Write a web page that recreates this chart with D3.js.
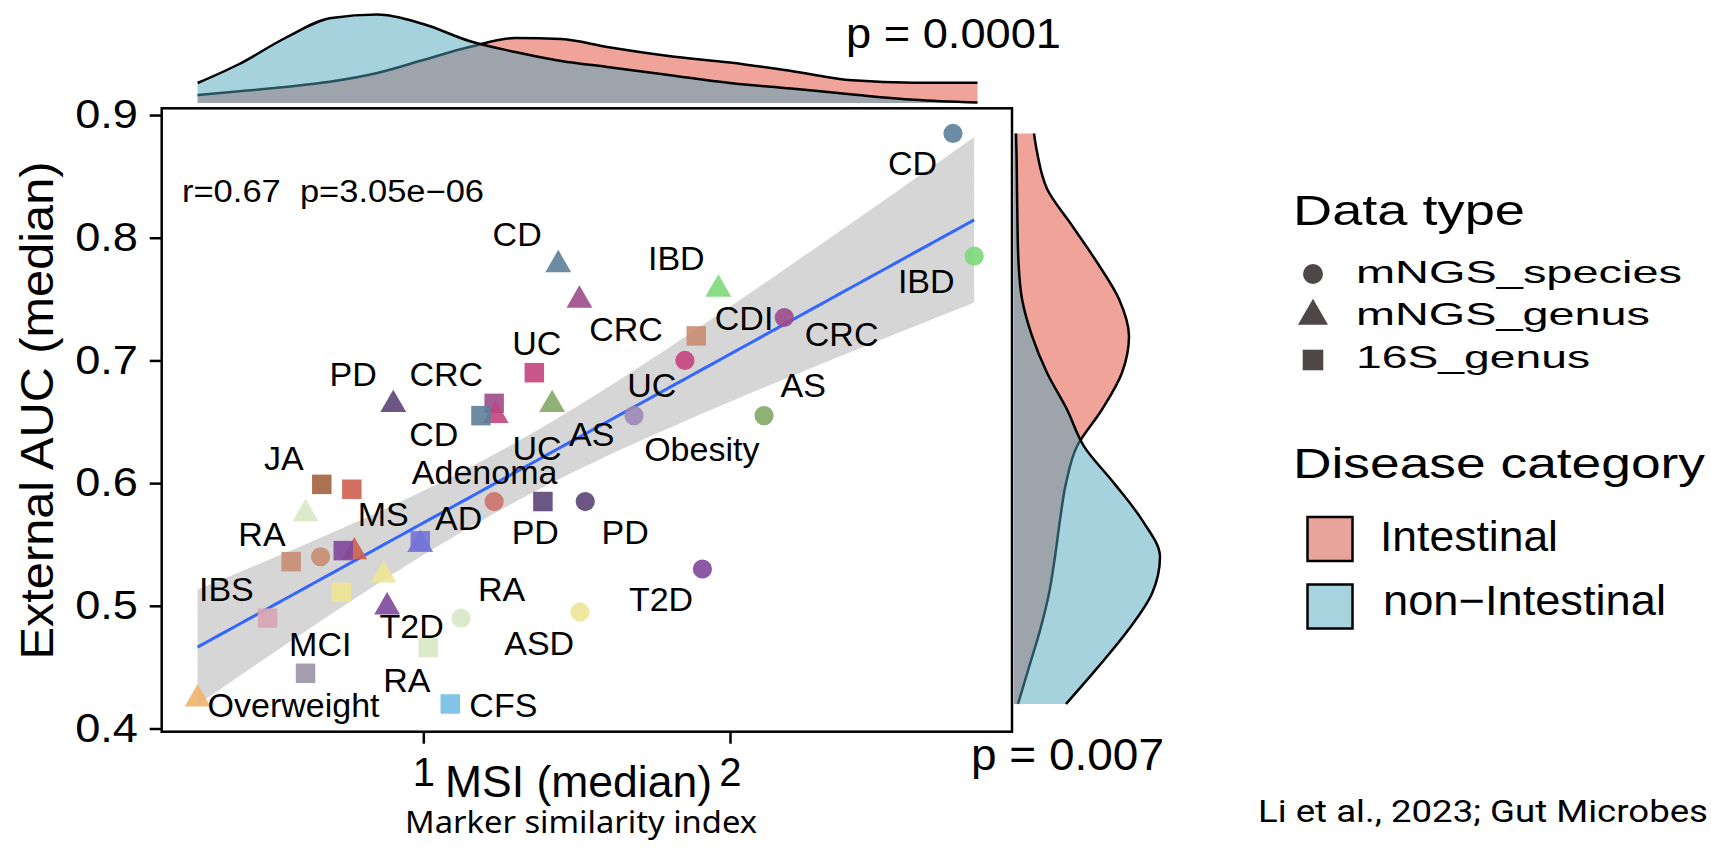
<!DOCTYPE html>
<html>
<head>
<meta charset="utf-8">
<script src="https://cdn.jsdelivr.net/npm/d3@7"></script>
<style>
  body { margin: 0; background: #fff; }
  svg { display: block; font-family: "Liberation Sans", Arial, sans-serif; }
</style>
</head>
<body>
<svg id="chart"></svg>
<script>
// Points : maladie, type de données, MSI (médiane), AUC externe (médiane)
const diseases = ["CD", "IBD", "CD", "IBD", "CRC", "CRC", "CDI", "UC", "UC", "PD",
  "AS", "CRC", "UC", "CD", "Obesity", "AS", "JA", "MS", "Adenoma", "PD",
  "PD", "RA", "AD", "AD", "MS", "T2D", "CDI", "CDI", "T2D", "ASD",
  "ASD", "T2D", "ASD", "IBS", "RA", "RA", "MCI", "Overweight", "CFS"];
const dataTypes = ["mNGS_species", "mNGS_species", "mNGS_genus", "mNGS_genus", "mNGS_genus",
  "mNGS_species", "16S_genus", "mNGS_species", "16S_genus", "mNGS_genus",
  "mNGS_genus", "16S_genus", "mNGS_genus", "16S_genus", "mNGS_species",
  "mNGS_species", "16S_genus", "16S_genus", "mNGS_species", "16S_genus",
  "mNGS_species", "mNGS_genus", "16S_genus", "mNGS_genus", "mNGS_genus",
  "16S_genus", "mNGS_species", "16S_genus", "mNGS_species", "mNGS_genus",
  "16S_genus", "mNGS_genus", "mNGS_species", "16S_genus", "mNGS_species",
  "16S_genus", "16S_genus", "mNGS_genus", "16S_genus"];
const msi = [2.727, 2.796, 1.44, 1.962, 1.509, 2.177, 1.89, 1.853, 1.362, 0.902,
  1.42, 1.231, 1.236, 1.188, 1.687, 2.111, 0.669, 0.767, 1.231, 1.39,
  1.528, 0.616, 0.99, 0.99, 0.775, 0.739, 0.665, 0.569, 1.91, 0.87,
  0.733, 0.882, 1.511, 0.492, 1.123, 1.016, 0.616, 0.264, 1.088];
const auc = [0.885, 0.785, 0.778, 0.758, 0.749, 0.735, 0.72, 0.7, 0.69, 0.664,
  0.664, 0.665, 0.655, 0.655, 0.655, 0.655, 0.599, 0.595, 0.585, 0.585,
  0.585, 0.575, 0.553, 0.55, 0.544, 0.545, 0.54, 0.536, 0.53, 0.525,
  0.511, 0.499, 0.495, 0.49, 0.49, 0.466, 0.445, 0.424, 0.42];

// Étiquettes (placées comme ggrepel)
const labelTexts = ["CD", "IBD", "CD", "IBD", "CRC", "CDI", "CRC", "UC", "AS", "UC",
  "PD", "CRC", "CD", "UC", "AS", "Obesity", "Adenoma", "JA", "MS", "AD",
  "PD", "PD", "RA", "IBS", "RA", "T2D", "T2D", "MCI", "ASD", "RA",
  "Overweight", "CFS"];
const labelMsi = [2.595, 2.64, 1.306, 1.825, 1.661, 2.046, 2.364, 1.745, 2.239, 1.37,
  0.771, 1.075, 1.034, 1.371, 1.549, 1.908, 1.2, 0.545, 0.869, 1.115,
  1.365, 1.658, 0.474, 0.358, 1.255, 0.962, 1.775, 0.664, 1.378, 0.946,
  0.577, 1.261];
const labelAuc = [0.861, 0.765, 0.803, 0.784, 0.726, 0.735, 0.722, 0.68, 0.68, 0.714,
  0.689, 0.689, 0.64, 0.629, 0.64, 0.628, 0.609, 0.621, 0.575, 0.572,
  0.56, 0.56, 0.559, 0.514, 0.514, 0.484, 0.506, 0.469, 0.47, 0.44,
  0.419, 0.419];

// Couleurs par maladie
const diseaseNames = ["CD", "IBD", "CRC", "CDI", "UC", "PD", "AS", "Obesity", "JA", "MS",
  "Adenoma", "RA", "AD", "T2D", "ASD", "IBS", "MCI", "Overweight", "CFS"];
const diseaseColors = ["#5d7f99", "#7ed87a", "#9c4b8a", "#c98d72", "#c4447f", "#5b4477",
  "#84a966", "#9d8ab8", "#a4633f", "#cf6050", "#cd706a", "#d7e8c4", "#7474d8",
  "#80479c", "#eee693", "#d8a5b5", "#9b94a8", "#eeb36c", "#74bde5"];

const typeNames = ["mNGS_species", "mNGS_genus", "16S_genus"];
const categoryNames = ["Intestinal", "non\u2212Intestinal"];

const xTicks = [1, 2];
const yTicks = [0.4, 0.5, 0.6, 0.7, 0.8, 0.9];

// Densités marginales
const densMsi = [0.264, 0.4, 0.55, 0.7, 0.85, 1.0, 1.15, 1.3, 1.45, 1.6, 1.8, 2.0, 2.2, 2.4, 2.6, 2.807];
const densMsiIntestinal = [0.08, 0.117, 0.16, 0.215, 0.3, 0.43, 0.56, 0.65, 0.64, 0.56, 0.47, 0.405, 0.32, 0.227, 0.203, 0.203];
const densMsiNonIntestinal = [0.2, 0.39, 0.65, 0.85, 0.885, 0.79, 0.62, 0.51, 0.42, 0.36, 0.28, 0.2, 0.145, 0.085, 0.032, 0.004];
const densAuc = [0.42, 0.45, 0.48, 0.51, 0.54, 0.57, 0.6, 0.63, 0.66, 0.69, 0.72, 0.75, 0.78, 0.81, 0.84, 0.87, 0.885];
const densAucIntestinal = [0.04, 0.15, 0.26, 0.35, 0.41, 0.46, 0.52, 0.63, 0.88, 1.08, 1.15, 1.05, 0.83, 0.58, 0.33, 0.23, 0.2];
const densAucNonIntestinal = [0.52, 0.84, 1.14, 1.38, 1.46, 1.28, 1.0, 0.7, 0.53, 0.33, 0.18, 0.08, 0.045, 0.035, 0.03, 0.025, 0.02];

const statText = "r=0.67  p=3.05e\u221206";
const pTop = "p = 0.0001";
const pRight = "p = 0.007";

// Dimensions
const width = 1711, height = 859;
const plot = { left: 161.7, top: 108.3, right: 1012, bottom: 731.7 };

const svg = d3.select("#chart").attr("width", width).attr("height", height);

const x = d3.scaleLinear().domain([0.147, 2.9195]).range([plot.left, plot.right]);
const y = d3.scaleLinear().domain([0.3974, 0.9055]).range([plot.bottom, plot.top]);
const color = d3.scaleOrdinal(diseaseNames, diseaseColors);
const shape = d3.scaleOrdinal(typeNames, [d3.symbolCircle, d3.symbolTriangle, d3.symbolSquare]);
const shapeSize = d3.scaleOrdinal(typeNames, [290, 290, 380]);

// Ajouter un texte (avec largeur forcée si besoin)
function addText(parent, str, px, py, size, opts = {}) {
  const t = parent.append("text")
    .attr("x", px).attr("y", py)
    .attr("font-size", size)
    .attr("fill", "#000")
    .attr("text-anchor", opts.anchor || "start")
    .style("white-space", "pre")
    .text(str);
  if (opts.family) t.attr("font-family", opts.family);
  if (opts.fit) t.attr("textLength", opts.fit).attr("lengthAdjust", "spacingAndGlyphs");
  return t;
}

// ---- densité du haut (MSI) ----
const topBase = 103;
const hTop = d3.scaleLinear().domain([0, 1]).range([0, 100]);
const areaTop = vals => d3.area()
  .x(d => x(d))
  .y0(topBase)
  .y1((d, i) => topBase - hTop(vals[i]))
  .curve(d3.curveMonotoneX)(densMsi);
const lineTop = vals => d3.line()
  .x(d => x(d))
  .y((d, i) => topBase - hTop(vals[i]))
  .curve(d3.curveMonotoneX)(densMsi);

const gTop = svg.append("g");
gTop.append("path").attr("d", areaTop(densMsiIntestinal)).attr("fill", "#efa399");
gTop.append("path").attr("d", lineTop(densMsiIntestinal)).attr("fill", "none").attr("stroke", "#000").attr("stroke-width", 2.5);
gTop.append("path").attr("d", areaTop(densMsiNonIntestinal)).attr("fill", "rgb(77,165,189)").attr("fill-opacity", 0.5);
gTop.append("path").attr("d", lineTop(densMsiNonIntestinal)).attr("fill", "none").attr("stroke", "#000").attr("stroke-width", 2.5);

// ---- densité de droite (AUC) ----
const rightBase = 1014;
const hRight = d3.scaleLinear().domain([0, 1]).range([0, 100]);
const areaRight = vals => d3.area()
  .y(d => y(d))
  .x0(rightBase)
  .x1((d, i) => rightBase + hRight(vals[i]))
  .curve(d3.curveMonotoneY)(densAuc);
const lineRight = vals => d3.line()
  .y(d => y(d))
  .x((d, i) => rightBase + hRight(vals[i]))
  .curve(d3.curveMonotoneY)(densAuc);

const gRight = svg.append("g");
gRight.append("path").attr("d", areaRight(densAucIntestinal)).attr("fill", "#efa399");
gRight.append("path").attr("d", lineRight(densAucIntestinal)).attr("fill", "none").attr("stroke", "#000").attr("stroke-width", 2.5);
gRight.append("path").attr("d", areaRight(densAucNonIntestinal)).attr("fill", "rgb(77,165,189)").attr("fill-opacity", 0.5);
gRight.append("path").attr("d", lineRight(densAucNonIntestinal)).attr("fill", "none").attr("stroke", "#000").attr("stroke-width", 2.5);

// ---- régression linéaire + IC 95% ----
const n = msi.length;
const mx = d3.mean(msi), my = d3.mean(auc);
const sxx = d3.sum(msi, v => (v - mx) ** 2);
const sxy = d3.sum(msi, (v, i) => (v - mx) * (auc[i] - my));
const slope = sxy / sxx, intercept = my - slope * mx;
const sse = d3.sum(msi, (v, i) => (auc[i] - (intercept + slope * v)) ** 2);
const sigma = Math.sqrt(sse / (n - 2));
const tCrit = 2.026; // qt(0.975, n - 2)
const [xmin, xmax] = d3.extent(msi);
const fitX = d3.range(81).map(i => xmin + (xmax - xmin) * i / 80);
const fit = fitX.map(v => {
  const yhat = intercept + slope * v;
  const half = tCrit * sigma * Math.sqrt(1 / n + (v - mx) ** 2 / sxx);
  return { v, yhat, lo: yhat - half, hi: yhat + half };
});

svg.append("path")
  .attr("d", d3.area().x(d => x(d.v)).y0(d => y(d.lo)).y1(d => y(d.hi))(fit))
  .attr("fill", "#d6d6d6");
svg.append("path")
  .attr("d", d3.line().x(d => x(d.v)).y(d => y(d.yhat))(fit))
  .attr("fill", "none").attr("stroke", "#3366ff").attr("stroke-width", 3);

// ---- points ----
svg.append("g")
  .selectAll("path")
  .data(msi)
  .join("path")
  .attr("transform", (d, i) => `translate(${x(d)},${y(auc[i])})`)
  .attr("d", (d, i) => d3.symbol(shape(dataTypes[i]), shapeSize(dataTypes[i]))())
  .attr("fill", (d, i) => color(diseases[i]))
  .attr("fill-opacity", 0.9);

// ---- étiquettes ----
svg.append("g")
  .selectAll("text")
  .data(labelTexts)
  .join("text")
  .attr("x", (d, i) => x(labelMsi[i]))
  .attr("y", (d, i) => y(labelAuc[i]))
  .attr("dy", "0.36em")
  .attr("text-anchor", "middle")
  .attr("font-size", 34)
  .attr("fill", "#000")
  .text(d => d);

addText(svg, statText, 182, 202, 31, { fit: 302 });

// ---- cadre et axes ----
svg.append("rect")
  .attr("x", plot.left).attr("y", plot.top)
  .attr("width", plot.right - plot.left).attr("height", plot.bottom - plot.top)
  .attr("fill", "none").attr("stroke", "#000").attr("stroke-width", 2.5);

const gy = svg.append("g")
  .attr("transform", `translate(${plot.left},0)`)
  .call(d3.axisLeft(y).tickValues(yTicks).tickFormat(d3.format(".1f")).tickSize(12).tickPadding(9));
gy.select(".domain").remove();
gy.selectAll(".tick line").attr("stroke", "#000").attr("stroke-width", 2.5);
gy.selectAll(".tick text")
  .attr("font-size", 40).attr("font-family", "Liberation Sans, Arial, sans-serif")
  .attr("fill", "#000").attr("transform", "scale(1.13,1)");

const gx = svg.append("g")
  .attr("transform", `translate(0,${plot.bottom})`)
  .call(d3.axisBottom(x).tickValues(xTicks).tickFormat(d3.format("d")).tickSize(12).tickPadding(14));
gx.select(".domain").remove();
gx.selectAll(".tick line").attr("stroke", "#000").attr("stroke-width", 2.5);
gx.selectAll(".tick text")
  .attr("font-size", 40).attr("font-family", "Liberation Sans, Arial, sans-serif")
  .attr("fill", "#000");

// Titres des axes
addText(svg, "MSI (median)", 578.5, 797, 44, { anchor: "middle", fit: 267 });
addText(svg, "Marker similarity index", 581, 833, 30, { anchor: "middle", family: "'Noto Sans', 'Open Sans', sans-serif", fit: 352 });
svg.append("text")
  .attr("transform", "translate(53,410.5) rotate(-90)")
  .attr("text-anchor", "middle")
  .attr("font-size", 46)
  .attr("textLength", 498).attr("lengthAdjust", "spacingAndGlyphs")
  .text("External AUC (median)");

// p-valeurs des densités
addText(svg, pTop, 846, 48, 42, { fit: 215 });
addText(svg, pRight, 971, 770, 44, { fit: 193 });

// ---- légendes ----
const leg = svg.append("g");
addText(leg, "Data type", 1293, 225, 43, { fit: 232 });
const typeY = [274, 316, 360];
const typeLabelY = [283, 325, 368];
const typeLabelW = [326, 294, 234];
const keySize = [314, 390, 424];
typeNames.forEach((t, i) => {
  leg.append("path")
    .attr("transform", `translate(1313,${typeY[i]})`)
    .attr("d", d3.symbol(shape(t), keySize[i])())
    .attr("fill", "#4f4747");
  addText(leg, t, 1356, typeLabelY[i], 32, { fit: typeLabelW[i] });
});

addText(leg, "Disease category", 1293, 478, 42, { fit: 412 });
const catFill = ["#e8a39a", "#a7d3df"];
const catBoxY = [517, 584.5];
const catLabelY = [551, 615];
const catLabelX = [1380, 1383];
const catLabelW = [178, 283];
categoryNames.forEach((c, i) => {
  leg.append("rect")
    .attr("x", 1307.5).attr("y", catBoxY[i])
    .attr("width", 45).attr("height", 44)
    .attr("fill", catFill[i]).attr("stroke", "#000").attr("stroke-width", 2.5);
  addText(leg, c, catLabelX[i], catLabelY[i], 42, { fit: catLabelW[i] });
});

// Source
addText(svg, "Li et al., 2023; Gut Microbes", 1708, 822, 32, { anchor: "end", family: "Roboto, sans-serif", fit: 450 });
</script>
</body>
</html>
